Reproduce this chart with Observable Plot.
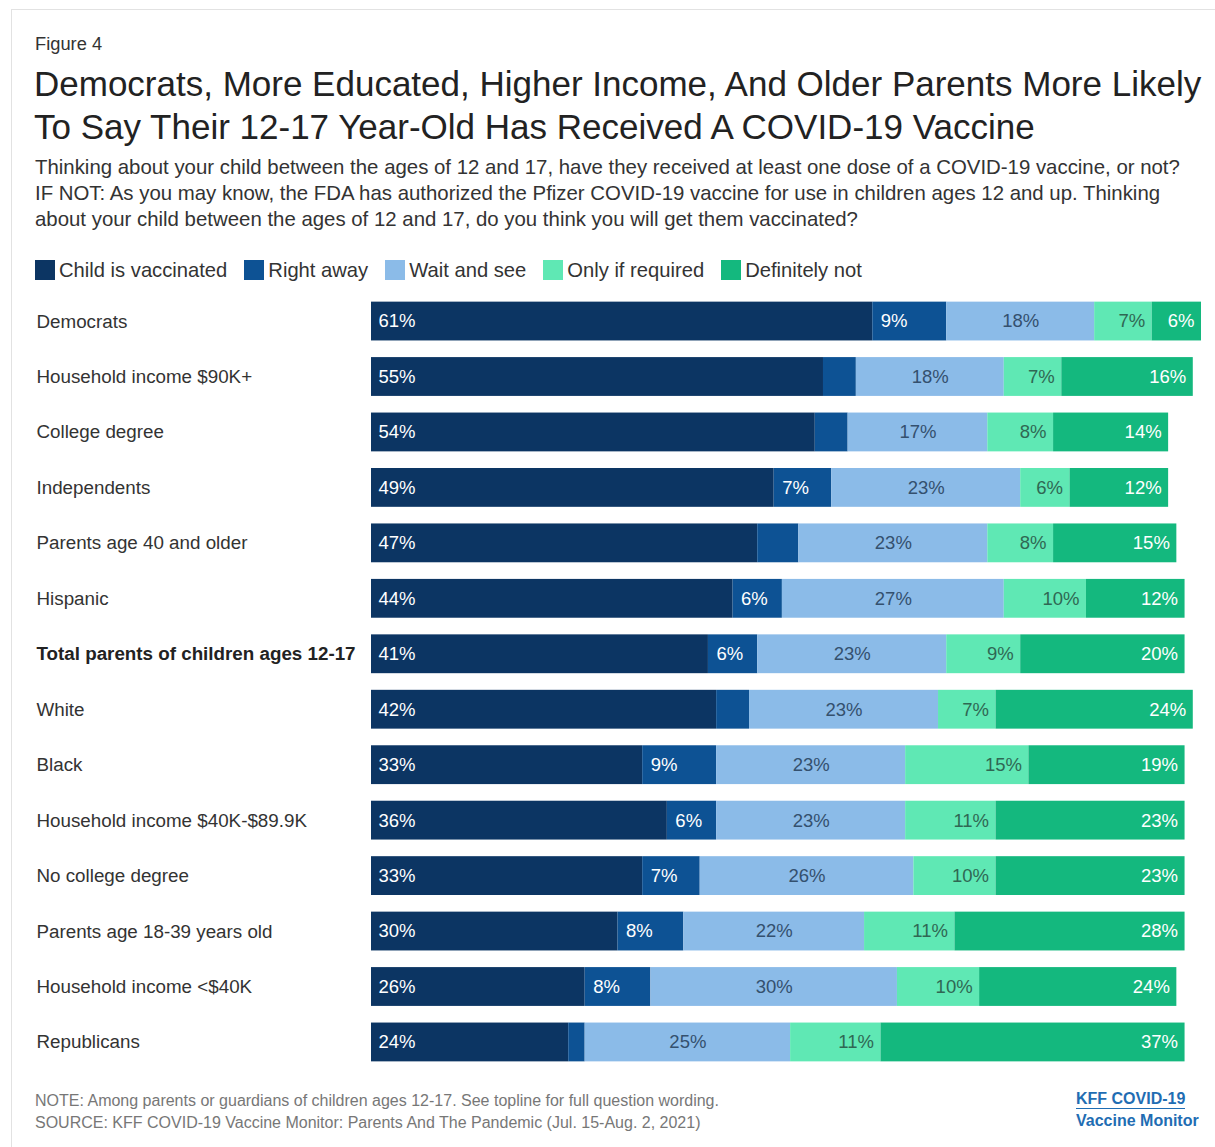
<!DOCTYPE html>
<html>
<head>
<meta charset="utf-8">
<script src="https://cdn.jsdelivr.net/npm/d3@7"></script>
<script src="https://cdn.jsdelivr.net/npm/@observablehq/plot@0.6"></script>
<style>
  body { margin: 0; background: #fff; font-family: "Liberation Sans", Arial, sans-serif; color: #333; }
  #page { position: relative; width: 1215px; height: 1147px; overflow: hidden; }
  #frame { position: absolute; left: 11px; top: 9px; width: 1240px; height: 1180px; border: 1px solid #e2e2e2; }
  .abs { position: absolute; white-space: nowrap; }
  #fig { left: 35px; top: 33px; font-size: 18.3px; color: #333; }
  #title { left: 34px; top: 62px; font-size: 35px; line-height: 43px; color: #222; }
  #subtitle { left: 35px; top: 154px; font-size: 20.4px; line-height: 26px; color: #333; }
  #legend { left: 35px; top: 259px; height: 22px; display: flex; align-items: center; font-size: 20.2px; color: #333; }
  #legend .item { display: flex; align-items: center; margin-right: 17px; }
  #legend .sw { width: 20px; height: 20px; margin-right: 4px; }
  #chart { left: 0; top: 285px; }
  #note { left: 35px; top: 1090px; font-size: 16px; line-height: 22px; color: #777; }
  #brand { left: 1076px; top: 1088px; font-size: 16px; font-weight: bold; color: #1f6db3; line-height: 22px; }
  #brand .l1 { border-bottom: 1px solid #1f6db3; display: inline-block; line-height: 19px; }
</style>
</head>
<body>
<div id="page">
  <div id="frame"></div>
  <div id="fig" class="abs">Figure 4</div>
  <div id="title" class="abs">Democrats, More Educated, Higher Income, And Older Parents More Likely<br>To Say Their 12-17 Year-Old Has Received A COVID-19 Vaccine</div>
  <div id="subtitle" class="abs">Thinking about your child between the ages of 12 and 17, have they received at least one dose of a COVID-19 vaccine, or not?<br>IF NOT: As you may know, the FDA has authorized the Pfizer COVID-19 vaccine for use in children ages 12 and up. Thinking<br>about your child between the ages of 12 and 17, do you think you will get them vaccinated?</div>
  <div id="legend" class="abs"></div>
  <div id="chart" class="abs"></div>
  <div id="note" class="abs">NOTE: Among parents or guardians of children ages 12-17. See topline for full question wording.<br>SOURCE: KFF COVID-19 Vaccine Monitor: Parents And The Pandemic (Jul. 15-Aug. 2, 2021)</div>
  <div id="brand" class="abs"><span class="l1">KFF COVID-19</span><br>Vaccine Monitor</div>
</div>
<script>
const categories = [
  "Democrats",
  "Household income $90K+",
  "College degree",
  "Independents",
  "Parents age 40 and older",
  "Hispanic",
  "Total parents of children ages 12-17",
  "White",
  "Black",
  "Household income $40K-$89.9K",
  "No college degree",
  "Parents age 18-39 years old",
  "Household income <$40K",
  "Republicans"
];
const boldCategory = "Total parents of children ages 12-17";
const seriesNames = ["Child is vaccinated", "Right away", "Wait and see", "Only if required", "Definitely not"];
const seriesColors = ["#0c3563", "#0d5294", "#8bbbe8", "#5fe8b4", "#14b87e"];

const vaccinated     = [61, 55, 54, 49, 47, 44, 41, 42, 33, 36, 33, 30, 26, 24];
const rightAway      = [ 9,  4,  4,  7,  5,  6,  6,  4,  9,  6,  7,  8,  8,  2];
const waitAndSee     = [18, 18, 17, 23, 23, 27, 23, 23, 23, 23, 26, 22, 30, 25];
const onlyIfRequired = [ 7,  7,  8,  6,  8, 10,  9,  7, 15, 11, 10, 11, 10, 11];
const definitelyNot  = [ 6, 16, 14, 12, 15, 12, 20, 24, 19, 23, 23, 28, 24, 37];

const seriesValues = [vaccinated, rightAway, waitAndSee, onlyIfRequired, definitelyNot];

const data = [];
categories.forEach((c, i) => {
  seriesNames.forEach((s, j) => {
    data.push({category: c, series: s, value: seriesValues[j][i]});
  });
});

// legend
const legend = document.getElementById("legend");
seriesNames.forEach((s, j) => {
  const item = document.createElement("div");
  item.className = "item";
  item.innerHTML = `<div class="sw" style="background:${seriesColors[j]}"></div><span>${s}</span>`;
  legend.appendChild(item);
});

const lab = (name, minVal) => d => (d.series === name && d.value >= minVal) ? d.value + "%" : "";

const stackOpts = {x: "value", y: "category", z: "series", order: seriesNames};

const plot = Plot.plot({
  width: 1215,
  height: 793,
  marginLeft: 371,
  marginRight: 14,
  marginTop: 0,
  marginBottom: 0,
  style: {fontFamily: "'Liberation Sans', Arial, sans-serif", fontSize: "18px", background: "transparent"},
  x: {domain: [0, 101], axis: null},
  y: {domain: categories, padding: 0.3, round: false, axis: null},
  color: {domain: seriesNames, range: seriesColors},
  marks: [
    Plot.barX(data, Plot.stackX({...stackOpts, fill: "series"})),
    Plot.text(data, Plot.stackX1({...stackOpts, text: lab("Child is vaccinated", 6), textAnchor: "start", dx: 7, fill: "#ffffff", fontSize: 18.5})),
    Plot.text(data, Plot.stackX1({...stackOpts, text: lab("Right away", 6), textAnchor: "start", dx: 8, fill: "#ffffff", fontSize: 18.5})),
    Plot.text(data, Plot.stackX({...stackOpts, text: lab("Wait and see", 0), textAnchor: "middle", fill: "#34506e", fontSize: 18.5})),
    Plot.text(data, Plot.stackX2({...stackOpts, text: lab("Only if required", 0), textAnchor: "end", dx: -7, fill: "#2f6753", fontSize: 18.5})),
    Plot.text(data, Plot.stackX2({...stackOpts, text: lab("Definitely not", 0), textAnchor: "end", dx: -7, fill: "#ffffff", fontSize: 18.5})),
    Plot.text(categories, {y: d => d, text: d => d === boldCategory ? "" : d, frameAnchor: "left", textAnchor: "start", dx: -335, fill: "#333", fontSize: 18.8}),
    Plot.text(categories, {y: d => d, text: d => d === boldCategory ? d : "", frameAnchor: "left", textAnchor: "start", dx: -335, fill: "#222", fontSize: 18.8, fontWeight: "bold"})
  ]
});
document.getElementById("chart").appendChild(plot);
</script>
</body>
</html>
